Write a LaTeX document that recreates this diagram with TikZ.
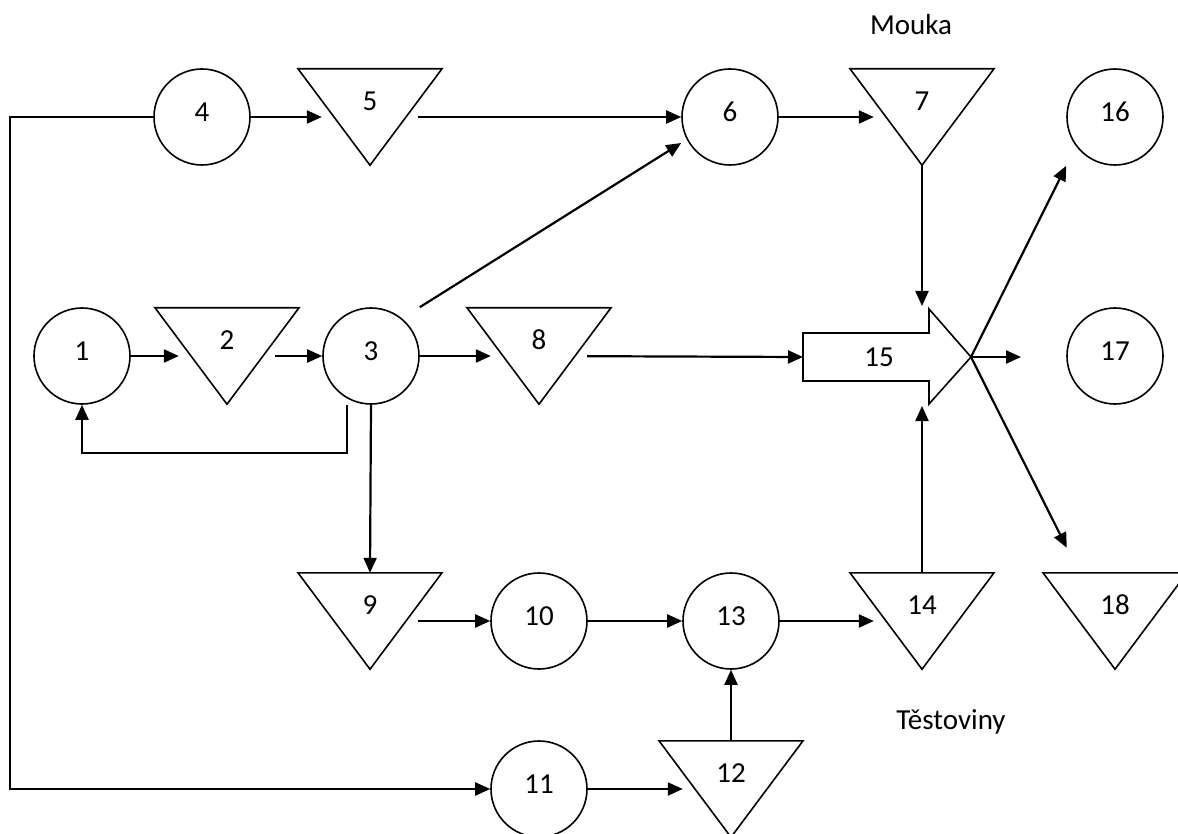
\documentclass[tikz,border=0pt]{standalone}
\usepackage{fontspec}
\setmainfont{Carlito}
\usetikzlibrary{arrows.meta,calc}

\tikzset{
  proc/.style={circle, draw, line width=1.6pt, minimum size=96pt, inner sep=0pt, text depth=10pt},
  skladka/.style={minimum size=96pt, inner sep=0pt, text depth=32pt},
  obrys/.style={line width=1.6pt, line join=miter},
  tok/.style={line width=2.2pt, -{Triangle[length=15pt,width=13pt]}},
  popis/.style={inner sep=0pt}
}

% trojuhelnik (zasoba) se jmenem a popisem
\newcommand{\sklad}[3]{%
  \node[skladka] (#1) at (#2) {#3};
  \draw[obrys] ($(#1.north)+(-72,0)$) -- ($(#1.north)+(72,0)$) -- (#1.south) -- cycle;}

\begin{document}
\begin{tikzpicture}[x=1pt,y=-1pt,font=\fontsize{29}{34}\selectfont]
  \useasboundingbox (0,0) rectangle (1178,834);

  % horni rada
  \node[proc] (n4) at (202,117) {4};
  \sklad{n5}{370,117}{5}
  \node[proc] (n6) at (730,117) {6};
  \sklad{n7}{922,117}{7}
  \node[proc] (n16) at (1115,117) {16};
  \node[popis] (mouka) at (911,25) {Mouka};

  % prostredni rada
  \node[proc] (n1) at (82,356) {1};
  \sklad{n2}{227,356}{2}
  \node[proc] (n3) at (371,356) {3};
  \sklad{n8}{539,356}{8}
  \node[proc] (n17) at (1115,356) {17};

  % sipka 15
  \node[popis] (n15) at (879,357) {15};
  \coordinate (n15tail) at (803,357);
  \coordinate (n15tip) at (971,357);
  \coordinate (n15top) at (922,306);
  \coordinate (n15bot) at (922,406);
  \draw[obrys] (803,333) -- (929,333) -- (929,309) -- (971,357)
    -- (929,404) -- (929,381) -- (803,381) -- cycle;

  % dolni rada
  \sklad{n9}{370,621}{9}
  \node[proc] (n10) at (539,621) {10};
  \node[proc] (n13) at (731,621) {13};
  \sklad{n14}{922,621}{14}
  \sklad{n18}{1115,621}{18}
  \node[popis] (testo) at (951,722) {Těstoviny};

  % posledni rada
  \node[proc] (n11) at (539,789) {11};
  \sklad{n12}{731,789}{12}

  % toky
  \draw[tok] (n4) -- (n5);
  \draw[tok] (n5) -- (n6);
  \draw[tok] (n6) -- (n7);
  \draw[tok] (n1) -- (n2);
  \draw[tok] (n2) -- (n3);
  \draw[tok] (n3) -- (n8);
  \draw[tok] (n3.north -| n3.east) -- ($(n6.west)+(0,26)$);
  \draw[tok] ($(n3.south)+(-24,0)$) -- ++(0,48) -| (n1.south);
  \draw[tok] (n3.south) -- (n9.north);
  \draw[tok] (n9) -- (n10);
  \draw[tok] (n10) -- (n13);
  \draw[tok] (n13) -- (n14);
  \draw[tok] (n11) -- (n12);
  \draw[tok] (n12.north) -- (n13.south);
  \draw[tok] (n4.west) -- ++(-143,0) |- (n11.west);
  \draw[tok] (n8) -- (n15tail);
  \draw[tok] (n7.south) -- (n15top);
  \draw[tok] (n14.north) -- (n15bot);
  \draw[tok] (n15tip) -- (n16.south -| n16.west);
  \draw[tok] (n15tip) -- ++(50,0);
  \draw[tok] (n15tip) -- ($(n18.north west)+(0,-25)$);
\end{tikzpicture}
\end{document}
